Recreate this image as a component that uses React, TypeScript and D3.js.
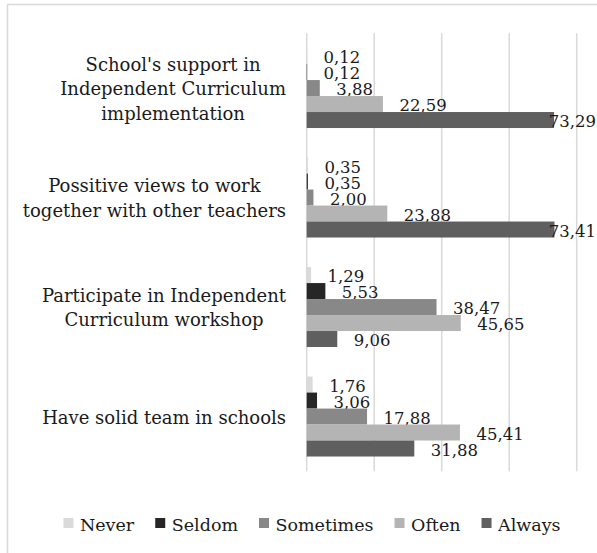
import React, { useMemo } from "react";
import * as d3 from "d3";

const categories = [
  "School's support in Independent Curriculum implementation",
  "Possitive views to work together with other teachers",
  "Participate in Independent Curriculum workshop",
  "Have solid team in schools",
];
const categoryLines = [
  ["School's support in", "Independent Curriculum", "implementation"],
  ["Possitive views to work", "together with other teachers"],
  ["Participate in Independent", "Curriculum workshop"],
  ["Have solid team in schools"],
];
const seriesNames = ["Never", "Seldom", "Sometimes", "Often", "Always"];
const never = [0.12, 0.35, 1.29, 1.76];
const seldom = [0.12, 0.35, 5.53, 3.06];
const sometimes = [3.88, 2.0, 38.47, 17.88];
const often = [22.59, 23.88, 45.65, 45.41];
const always = [73.29, 73.41, 9.06, 31.88];
const seriesValues = [never, seldom, sometimes, often, always];
const seriesColors = ["#dadada", "#262626", "#888888", "#b4b4b4", "#5f5f5f"];
const xTicks = [0, 20, 40, 60, 80];

const FONT = "'DejaVu Serif', serif";
const TEXT = "#1a1a1a";

const locale = d3.formatLocale({ decimal: ",", thousands: ".", grouping: [3], currency: ["", ""] });
const fmt = locale.format(".2f");

function measurer() {
  const c = document.createElement("canvas");
  const ctx = c.getContext("2d")!;
  return (s: string, size: number) => {
    ctx.font = `${size}px 'DejaVu Serif'`;
    return ctx.measureText(s).width;
  };
}

export default function App() {
  const W = 597;
  const H = 553;
  const measure = useMemo(() => measurer(), []);

  const x = d3.scaleLinear().domain([0, 80]).range([306.7, 576.7]);
  const y = d3
    .scaleBand<string>()
    .domain(categories)
    .range([33.3, 471.3])
    .paddingInner(0.27)
    .paddingOuter(0.135);
  const inner = d3.scaleBand<string>().domain(seriesNames).range([0, y.bandwidth()]);

  const catSize = 18;
  const labSize = 16.5;
  const legSize = 17.5;
  const axisRight = 286;

  const sq = 10;
  const gapSqText = 6.5;
  const gapItems = 21;
  const itemWidths = seriesNames.map((s) => sq + gapSqText + measure(s, legSize));
  const total = itemWidths.reduce((a, b) => a + b, 0) + gapItems * (seriesNames.length - 1);
  let lx = 312 - total / 2;
  const legendX: number[] = [];
  itemWidths.forEach((w) => {
    legendX.push(lx);
    lx += w + gapItems;
  });

  return (
    <svg
      width={W}
      height={H}
      style={{ position: "absolute", left: 0, top: 0, background: "#fff" }}
      fontFamily={FONT}
    >
      <rect x={0} y={0} width={W} height={H} fill="#fff" />
      <rect x={7.5} y={4.5} width={620} height={570} fill="none" stroke="#d9d9d9" strokeWidth={1.5} />
      {xTicks.map((t) => (
        <line key={t} x1={x(t)} x2={x(t)} y1={33.3} y2={471.3} stroke="#d9d9d9" strokeWidth={1.5} />
      ))}
      {categories.map((c, ci) => {
        const g = y(c)!;
        return (
          <g key={c}>
            {seriesNames.map((s, si) => {
              const v = seriesValues[si][ci];
              const by = g + inner(s)!;
              const bh = inner.bandwidth();
              const x0 = x(0);
              const x1 = x(v);
              const label = fmt(v);
              const lw = measure(label, labSize);
              let lxp = x1 + 16.5;
              let anchor: "start" | "end" = "start";
              if (lxp + lw > 596) {
                lxp = 596;
                anchor = "end";
              }
              return (
                <g key={s}>
                  <rect x={x0} y={by} width={Math.max(0, x1 - x0)} height={bh} fill={seriesColors[si]} />
                  <text x={lxp} y={by + bh - 1} textAnchor={anchor} fontSize={labSize} fill={TEXT}>
                    {label}
                  </text>
                </g>
              );
            })}
          </g>
        );
      })}
      {categories.map((c, ci) => {
        const lines = categoryLines[ci];
        const maxW = Math.max(...lines.map((l) => measure(l, catSize)));
        const cx = axisRight - maxW / 2;
        const center = y(c)! + y.bandwidth() / 2;
        const lh = 24.5;
        return (
          <text key={c} textAnchor="middle" fontSize={catSize} fill={TEXT}>
            {lines.map((l, i) => (
              <tspan key={i} x={cx} y={center + lh * (i - (lines.length - 1) / 2) + 7}>
                {l}
              </tspan>
            ))}
          </text>
        );
      })}
      {seriesNames.map((s, i) => (
        <g key={s}>
          <rect x={legendX[i]} y={518} width={sq} height={sq} fill={seriesColors[i]} />
          <text x={legendX[i] + sq + gapSqText} y={530.5} fontSize={legSize} fill={TEXT}>
            {s}
          </text>
        </g>
      ))}
    </svg>
  );
}
